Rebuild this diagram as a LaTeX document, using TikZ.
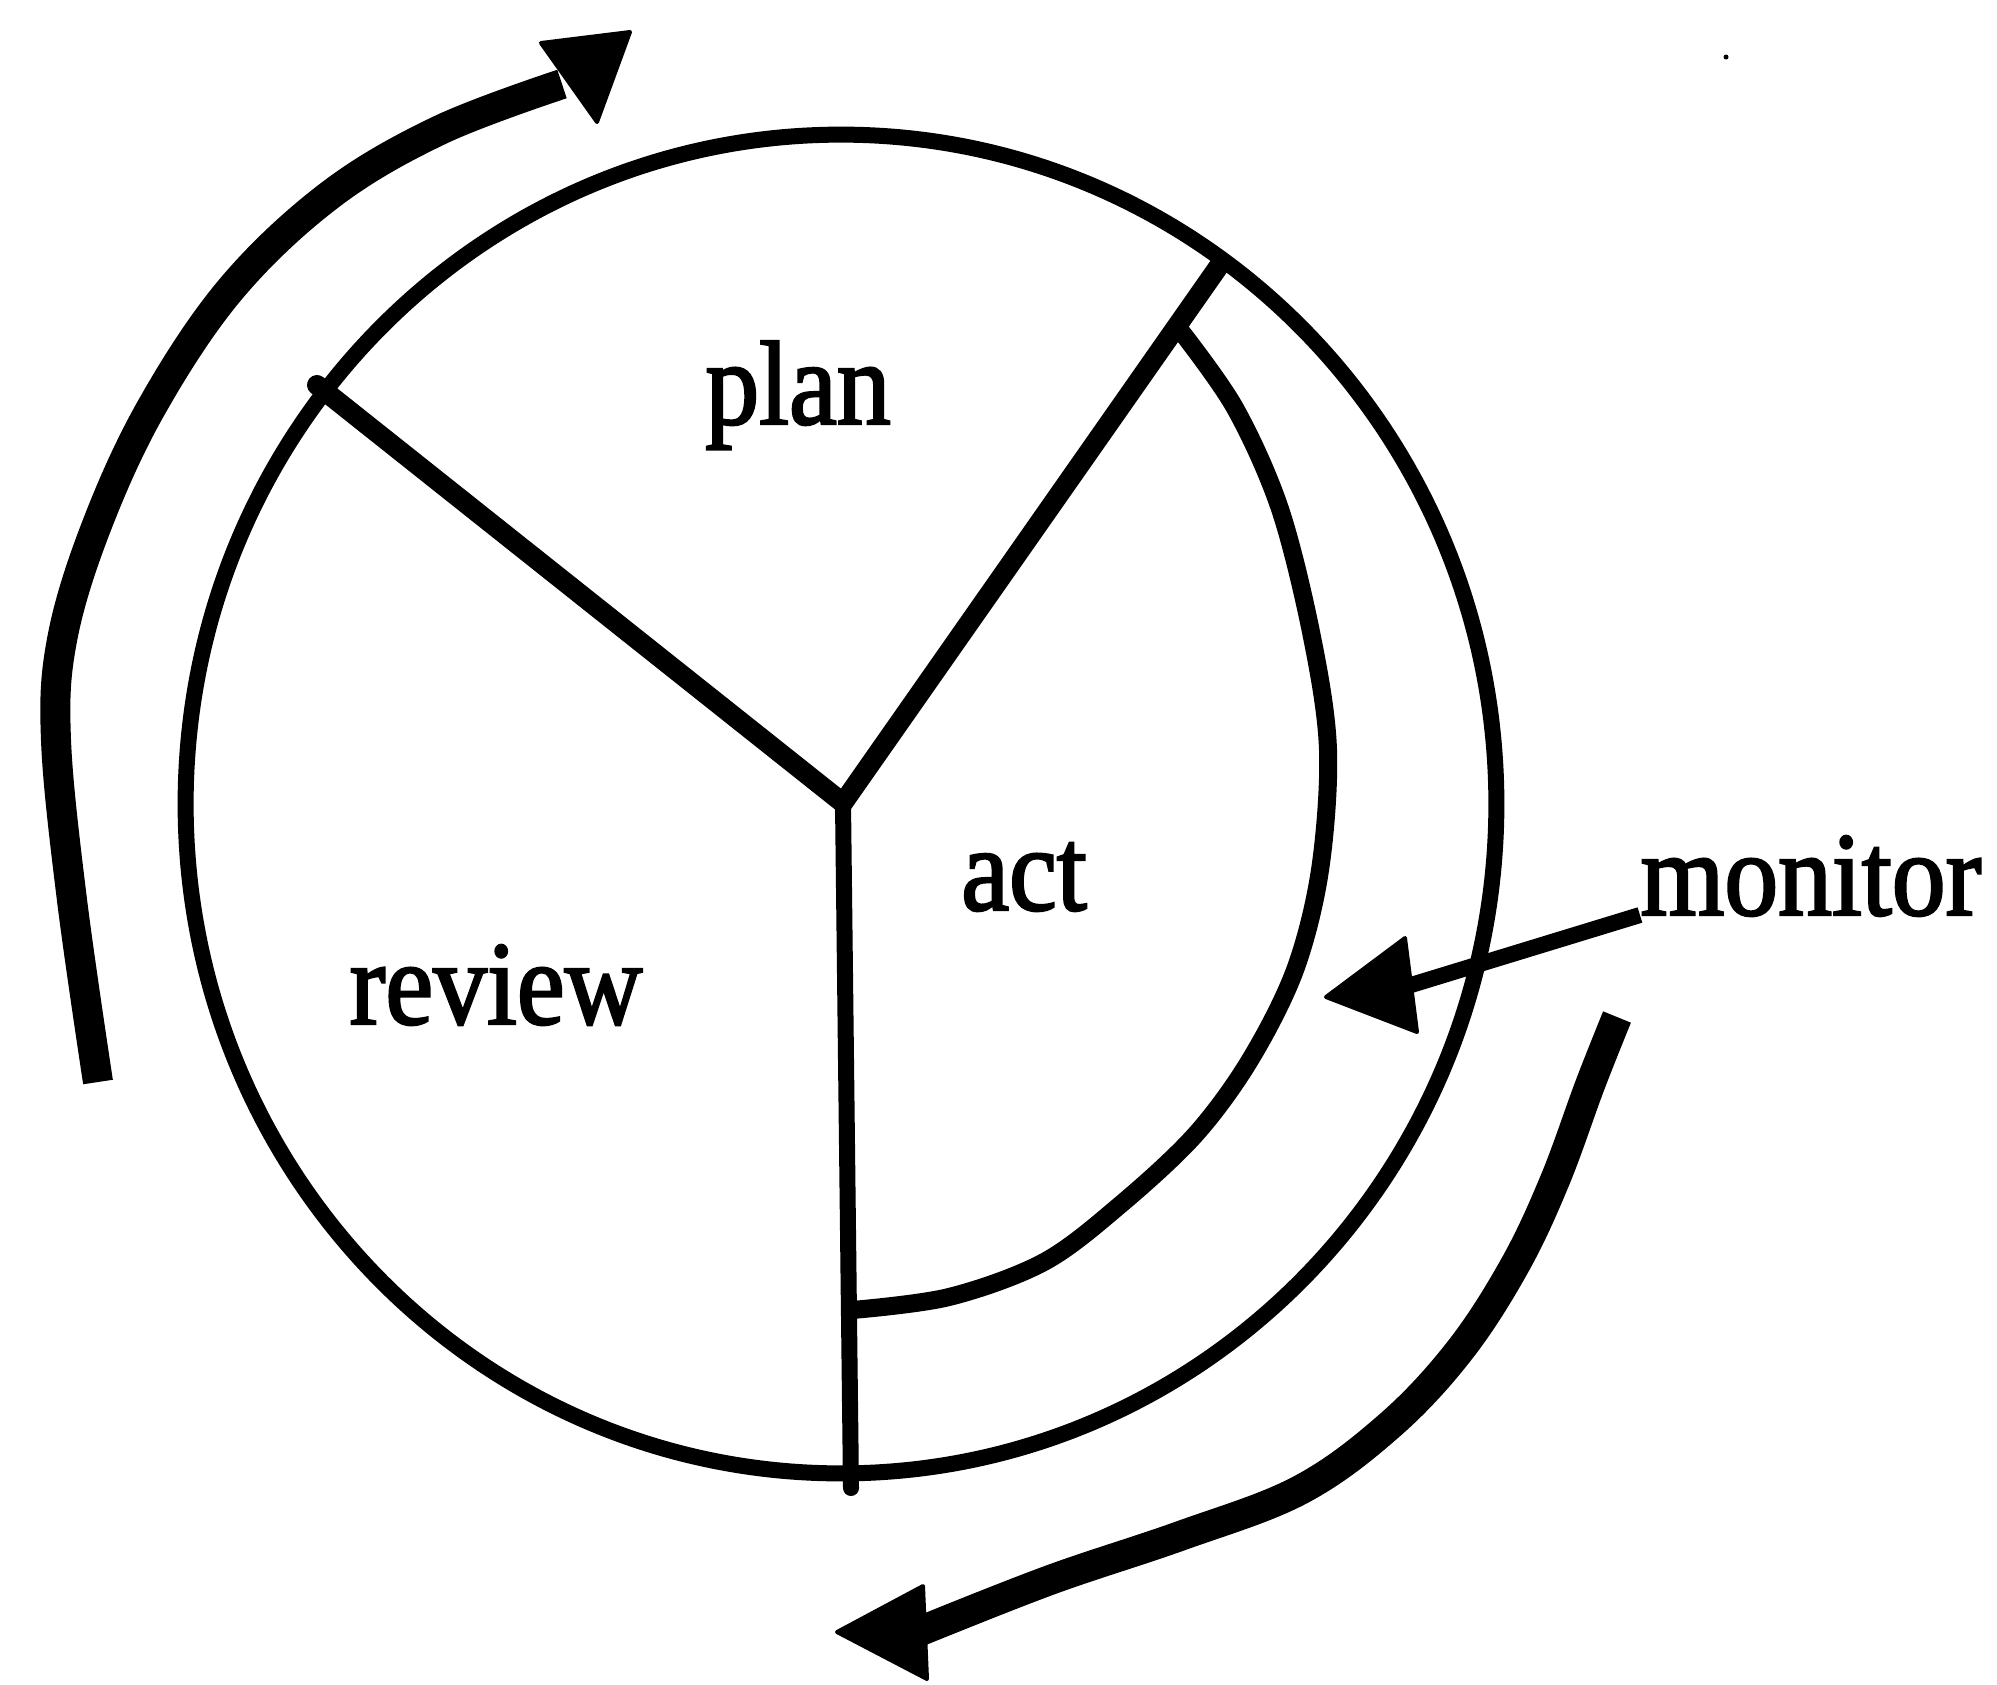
\documentclass[tikz,border=0pt]{standalone}
\usepackage{fontspec}
\newfontfamily\lblfont[FakeStretch=0.9,FakeBold=2]{Liberation Serif}
\begin{document}
\begin{tikzpicture}[x=0.01cm,y=-0.01cm,
  circline/.style={line width=1.6mm, line join=round, line cap=round},
  spoke/.style={line width=2.0mm, line join=round, line cap=round},
  thickarrow/.style={line width=3.0mm, line join=round},
  headtip/.style={fill=black, draw=black, line width=0.4mm, line join=round},
  lbl/.style={font=\lblfont\fontsize{34}{40}\selectfont, inner sep=0pt, anchor=base}]
\useasboundingbox (0,0) rectangle (1997,1684);
% outer circle
\draw[circline] (841,804) ellipse [x radius=6.55cm, y radius=6.69cm];
% spokes
\coordinate (hub) at (843,803);
\coordinate (sl) at (317,385);
\coordinate (sr) at (1219,266);
\coordinate (sb) at (851,1488);
\draw[spoke] (sl) -- (hub) -- (sr);
\draw[circline] (hub) -- (sb);
% inner arc (monitor band)
\coordinate (ia) at (1180,330);
\coordinate (ib) at (852,1310);
\draw[circline, line width=1.8mm] plot[smooth, tension=0.55] coordinates {(ia) (1235,408) (1280,509) (1312,637) (1328,750) (1320,870) (1295,970) (1250,1060) (1195,1135) (1120,1205) (1044,1262) (949,1297) (ib)};
% labels
\node[lbl] (plan) at (798,424) {plan};
\node[lbl] (act) at (1024,910) {act};
\node[lbl] (review) at (496,1024) {review};
\node[lbl] (monitor) at (1811,915) {monitor};
% monitor arrow
\coordinate (mbase) at (1411,985);
\coordinate (mtip) at (1326,997);
\draw[line width=1.6mm] (monitor.base west) -- (mbase);
\filldraw[headtip] (mtip) -- (1405,938) -- (1417,1032) -- cycle;
% left cycle arrow
\coordinate (la) at (98,1082);
\coordinate (lb) at (562,84);
\draw[thickarrow] plot[smooth, tension=0.6] coordinates {(la) (72,900) (56,740) (62,640) (95,530) (150,410) (230,290) (330,195) (440,130) (lb)};
\filldraw[headtip] (630,32) -- (541,43) -- (597,122) -- cycle;
% bottom-right cycle arrow
\coordinate (ra) at (1617,1017);
\coordinate (rb) at (918,1632);
\draw[thickarrow] plot[smooth, tension=0.6] coordinates {(ra) (1590,1085) (1555,1180) (1515,1265) (1460,1350) (1390,1425) (1300,1490) (1180,1536) (1050,1580) (rb)};
\filldraw[headtip] (837,1632) -- (923,1586) -- (927,1679) -- cycle;
% speck
\fill (1726,57) circle[radius=0.025cm];
\end{tikzpicture}
\end{document}
